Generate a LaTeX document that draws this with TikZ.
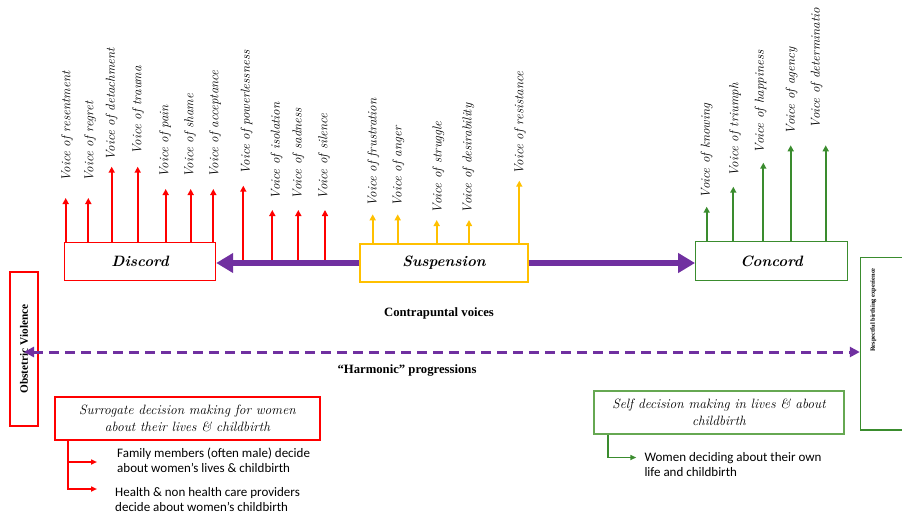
\documentclass[tikz,border=0pt]{standalone}
\usepackage{fontspec}
\newfontfamily\calibri{Carlito}
\newfontfamily\antiqua{Liberation Serif}
\usetikzlibrary{arrows.meta}
\definecolor{disred}{HTML}{FF0000}
\definecolor{susyellow}{HTML}{FFC000}
\definecolor{congreen}{HTML}{3A8C2E}
\definecolor{selfgreen}{HTML}{66A852}
\definecolor{harmpurple}{HTML}{7030A0}

\begin{document}
\begin{tikzpicture}[x=1pt,y=-1pt,
  box/.style={draw,line width=1.4pt,inner sep=0pt},
  title/.style={font=\fontsize{15}{18}\selectfont\bfseries\itshape},
  voice/.style={rotate=90,anchor=west,inner sep=0pt,font=\fontsize{13}{15}\selectfont\itshape},
  up/.style={line width=1.8pt,-{Triangle[width=6pt,length=6pt]}},
  bigarrow/.style={harmpurple,line width=6.5pt,-{Triangle[width=19pt,length=17pt]}},
  subarrow/.style={line width=1.8pt,-{Triangle[width=5pt,length=6pt]}},
  sidelabel/.style={rotate=90,inner sep=0pt},
  heading/.style={inner sep=0pt,font=\antiqua\fontsize{12.7}{15}\selectfont\bfseries},
  sans/.style={anchor=west,align=left,inner sep=0pt,font=\calibri\fontsize{13}{14.6}\selectfont},
  note/.style={align=center,inner sep=0pt,font=\fontsize{13.5}{16.7}\selectfont\itshape}]
\useasboundingbox (0,0) rectangle (902,517);

% the three states
\node[box,draw=disred,minimum width=151pt,minimum height=38pt,title] (dis) at (140,261.5) {Discord};
\node[box,draw=susyellow,minimum width=168pt,minimum height=38pt,title] (sus) at (444,263) {Suspension};
\node[box,draw=congreen,minimum width=151.5pt,minimum height=38.5pt,title] (con) at (771.5,261) {Concord};

% voices of discord
\foreach \x/\lx/\tip/\bot/\w in {65.7/67/198/181.7/resentment,88.3/90/198/181.7/regret,
    111.7/111.7/166.7/160.7/detachment,137.7/138/166.7/155/trauma,165.7/165/189/178/pain,
    190.7/190/189/178/shame,213.3/215/189/178/acceptance}{
  \draw[up,disred] (\x,0 |- dis.north) -- (\x,\tip);
  \node[voice] (v-\w) at (\lx,\bot) {Voice of \w};
}
\foreach \x/\lx/\tip/\bot/\w in {243.3/246.7/185.7/175/powerlessness,272.3/276.7/210/199.3/isolation,
    298.3/298.3/210/199.3/sadness,325/324/210/199.3/silence}{
  \draw[up,disred] (\x,0 |- sus.west) -- (\x,\tip);
  \node[voice] (v-\w) at (\lx,\bot) {Voice of \w};
}
% voices of suspension
\foreach \x/\lx/\tip/\bot/\w in {372.7/373.3/214.3/206.7/frustration,397.7/398.3/214.3/206.7/anger,
    436.7/438.3/220/213.3/struggle,469/468.3/220/213.3/desirability,519.3/520/180.7/175/resistance}{
  \draw[up,susyellow] (\x,0 |- sus.north) -- (\x,\tip);
  \node[voice] (v-\w) at (\lx,\bot) {Voice of \w};
}
% voices of concord
\foreach \x/\lx/\tip/\bot/\w in {706.7/706.7/206.7/198.3/knowing,733.3/735/186.7/176.7/triumph,
    763.3/760.7/162.7/153.3/happiness,790.7/791.7/145.3/134.3/agency,825.7/816.7/145.3/128.3/determinatio}{
  \draw[up,congreen] (\x,0 |- con.north) -- (\x,\tip);
  \node[voice] (v-\w) at (\lx,\bot) {Voice of \w};
}

\draw[bigarrow] (sus.west) -- (sus.west -| dis.east);
\draw[bigarrow] (sus.east) -- (sus.east -| con.west);

\node[heading] (contra) at (439,313) {Contrapuntal voices};

% the two ends
\node[box,draw=disred,minimum width=154pt,minimum height=28pt,sidelabel,font=\antiqua\fontsize{11.3}{13}\selectfont\bfseries] (obst) at (24,349) {Obstetric Violence};
\node[box,draw=congreen,minimum width=50pt,minimum height=172.5pt] (resp) at (885.5,343.75) {};
\node[sidelabel,font=\antiqua\fontsize{6.4}{8}\selectfont\bfseries] (resplabel) at (873.3,310) {Respectful birthing experience};

\draw[harmpurple,line width=3pt,dash pattern=on 10pt off 6pt,
  {Triangle[width=10pt,length=10pt]}-{Triangle[width=10pt,length=10pt]}]
  (obst.east |- 0,352) -- (resp.west |- 0,352);
\node[heading] (harm) at (407,370) {“Harmonic” progressions};

% decision making
\node[box,draw=disred,minimum width=265pt,minimum height=43pt,note] (sur) at (187.5,418.5)
  {Surrogate decision making for women\\about their lives \& childbirth};
\node[sans] (fam) at (117,460) {Family members (often male) decide\\about women’s lives \& childbirth};
\node[sans] (hcp) at (115,499.5) {Health \& non health care providers\\decide about women’s childbirth};
\draw[subarrow,disred] (68,0 |- sur.south) |- ([xshift=-20pt,yshift=-2pt]fam.west);
\draw[subarrow,disred] (68,0 |- sur.south) |- ([xshift=-18pt,yshift=10.5pt]hcp.west);

\node[box,draw=selfgreen,minimum width=250pt,minimum height=43pt,note] (self) at (719,412.5)
  {Self decision making in lives \& about\\childbirth};
\node[sans] (wom) at (644.3,464.5) {Women deciding about their own\\life and childbirth};
\draw[subarrow,congreen] (608,0 |- self.south) |- ([xshift=-8pt,yshift=7pt]wom.west);
\end{tikzpicture}
\end{document}
